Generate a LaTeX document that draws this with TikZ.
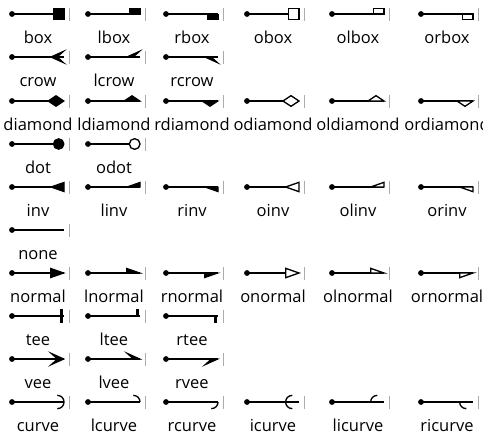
\documentclass[tikz,border=0pt]{standalone}
\usepackage{fontspec}
\setmainfont{Open Sans}

\begin{document}
\begin{tikzpicture}[x=1pt,y=-1pt,font=\fontsize{16.5}{19}\selectfont,
  edge/.style={line width=1.33pt},
  tail/.style={circle,fill,inner sep=0pt,minimum size=5.8pt},
  tick/.style={draw=gray!65,line width=1pt},
  head/.style={fill=black,draw=black,line width=1pt,line join=miter},
  ohead/.style={fill=white,draw=black,line width=1.33pt,line join=miter},
  chead/.style={draw=black,line width=1.33pt}]
\useasboundingbox (0,0) rectangle (483,437);
% one cell per arrow type: tail dot, edge, tick and name
\foreach \nm/\x/\y in {box/12/14, lbox/88/14, rbox/166/14, obox/247/14, olbox/332/14, orbox/421/14,
    crow/12/57, lcrow/88/57, rcrow/166/57,
    diamond/12/101, ldiamond/88/101, rdiamond/166/101, odiamond/247/101, oldiamond/332/101, ordiamond/421/101,
    dot/12/144, odot/88/144,
    inv/12/187, linv/88/187, rinv/166/187, oinv/247/187, olinv/332/187, orinv/421/187,
    none/12/230,
    normal/12/273, lnormal/88/273, rnormal/166/273, onormal/247/273, olnormal/332/273, ornormal/421/273,
    tee/12/316, ltee/88/316, rtee/166/316,
    vee/12/359, lvee/88/359, rvee/166/359,
    curve/12/402, lcurve/88/402, rcurve/166/402, icurve/247/402, licurve/332/402, ricurve/421/402}{
  \node[tail] (\nm-t) at (\x,\y) {};
  \coordinate (\nm-h) at (\x+52,\y);
  \draw[edge] (\nm-t.center) -- (\nm-h);
  \draw[tick] ([shift={(5,-6.5)}]\nm-h) -- ++(0,13);
  \node[anchor=base] (\nm-l) at (\x+26,\y+29) {\nm};
}
% box
\path[head,shift={(box-h)}] (-10.67,-5.33) rectangle (0,5.33);
\path[head,shift={(lbox-h)}] (-10.67,-5.33) rectangle (0,0);
\path[head,shift={(rbox-h)}] (-10.67,0) rectangle (0,5.33);
\path[ohead,shift={(obox-h)}] (-10.67,-5.33) rectangle (0,5.33);
\path[ohead,shift={(olbox-h)}] (-10.67,-5.33) rectangle (0,0);
\path[ohead,shift={(orbox-h)}] (-10.67,0) rectangle (0,5.33);
% crow
\path[head,shift={(crow-h)}] (-13.33,0) -- (0,-6) -- (-6.67,0) -- (0,6) -- cycle;
\path[head,shift={(lcrow-h)}] (-13.33,0) -- (0,-6) -- (-6.67,0) -- cycle;
\path[head,shift={(rcrow-h)}] (-13.33,0) -- (0,6) -- (-6.67,0) -- cycle;
% diamond
\path[head,shift={(diamond-h)}] (-16,0) -- (-8,-5.33) -- (0,0) -- (-8,5.33) -- cycle;
\path[head,shift={(ldiamond-h)}] (-16,0) -- (-8,-5.33) -- (0,0) -- cycle;
\path[head,shift={(rdiamond-h)}] (-16,0) -- (-8,5.33) -- (0,0) -- cycle;
\path[ohead,shift={(odiamond-h)}] (-16,0) -- (-8,-5.33) -- (0,0) -- (-8,5.33) -- cycle;
\path[ohead,shift={(oldiamond-h)}] (-16,0) -- (-8,-5.33) -- (0,0) -- cycle;
\path[ohead,shift={(ordiamond-h)}] (-16,0) -- (-8,5.33) -- (0,0) -- cycle;
% dot
\path[head,shift={(dot-h)}] (-5.33,0) circle (5.33);
\path[ohead,shift={(odot-h)}] (-5.33,0) circle (5.33);
% inv
\path[head,shift={(inv-h)}] (-13.33,0) -- (0,-4.67) -- (0,4.67) -- cycle;
\path[head,shift={(linv-h)}] (-13.33,0) -- (0,-4.67) -- (0,0) -- cycle;
\path[head,shift={(rinv-h)}] (-13.33,0) -- (0,4.67) -- (0,0) -- cycle;
\path[ohead,shift={(oinv-h)}] (-13.33,0) -- (0,-4.67) -- (0,4.67) -- cycle;
\path[ohead,shift={(olinv-h)}] (-13.33,0) -- (0,-4.67) -- (0,0) -- cycle;
\path[ohead,shift={(orinv-h)}] (-13.33,0) -- (0,4.67) -- (0,0) -- cycle;
% normal
\path[head,shift={(normal-h)}] (0,0) -- (-13.33,-4.67) -- (-13.33,4.67) -- cycle;
\path[head,shift={(lnormal-h)}] (0,0) -- (-13.33,-4.67) -- (-13.33,0) -- cycle;
\path[head,shift={(rnormal-h)}] (0,0) -- (-13.33,4.67) -- (-13.33,0) -- cycle;
\path[ohead,shift={(onormal-h)}] (0,0) -- (-13.33,-4.67) -- (-13.33,4.67) -- cycle;
\path[ohead,shift={(olnormal-h)}] (0,0) -- (-13.33,-4.67) -- (-13.33,0) -- cycle;
\path[ohead,shift={(ornormal-h)}] (0,0) -- (-13.33,4.67) -- (-13.33,0) -- cycle;
% tee
\path[head,shift={(tee-h)}] (-4,-6.67) rectangle (-1.33,6.67);
\path[head,shift={(ltee-h)}] (-4,-6.67) rectangle (-1.33,0);
\path[head,shift={(rtee-h)}] (-4,0) rectangle (-1.33,6.67);
% vee
\path[head,shift={(vee-h)}] (0,0) -- (-13.33,-6) -- (-6.67,0) -- (-13.33,6) -- cycle;
\path[head,shift={(lvee-h)}] (0,0) -- (-13.33,-6) -- (-6.67,0) -- cycle;
\path[head,shift={(rvee-h)}] (0,0) -- (-13.33,6) -- (-6.67,0) -- cycle;
% curve
\draw[chead,shift={(curve-h)}] (-6.67,-6.67) .. controls (2.22,-6.33) and (2.22,6.33) .. (-6.67,6.67);
\draw[chead,shift={(lcurve-h)}] (-6.67,-6.67) .. controls (-2.22,-6.5) and (0,-3.25) .. (0,0);
\draw[chead,shift={(rcurve-h)}] (0,0) .. controls (0,3.25) and (-2.22,6.5) .. (-6.67,6.67);
\draw[chead,shift={(icurve-h)}] (-6.67,-6.67) .. controls (-15.56,-6.33) and (-15.56,6.33) .. (-6.67,6.67);
\draw[chead,shift={(licurve-h)}] (-6.67,-6.67) .. controls (-11.11,-6.5) and (-13.33,-3.25) .. (-13.33,0);
\draw[chead,shift={(ricurve-h)}] (-13.33,0) .. controls (-13.33,3.25) and (-11.11,6.5) .. (-6.67,6.67);
\end{tikzpicture}
\end{document}
